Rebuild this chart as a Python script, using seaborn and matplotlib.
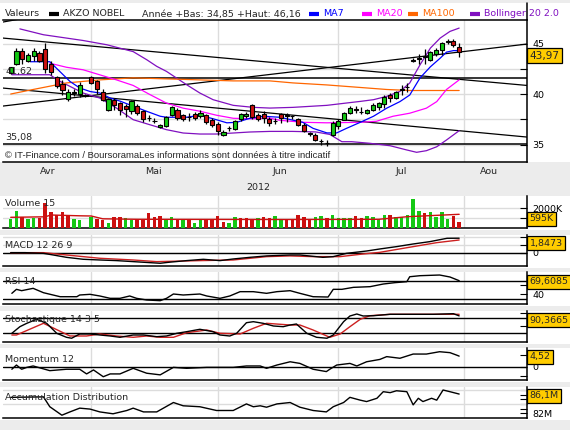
import matplotlib
matplotlib.use("Agg")
import matplotlib.pyplot as plt
import matplotlib.transforms as mtransforms
from matplotlib.lines import Line2D
from matplotlib.patches import Rectangle
import seaborn as sns

# ---------------- data (x = trading day index) ----------------
opens = [42.1, 43.0, 44.3, 43.25, 43.75, 44.05, 44.5, 43.0, 41.65, 41.0,
         39.5, 40.15, 40.0, 39.85, 41.7, 41.25, 40.25, 38.45, 39.45, 39.1,
         38.85, 38.3, 38.85, 38.35, 37.6, 37.3, 36.7, 36.8, 37.9, 38.45,
         37.95, 37.7, 38.0, 37.8, 37.9, 37.45, 37.05, 35.95, 36.6, 36.55,
         37.55, 37.8, 38.9, 37.9, 38.0, 37.55, 37.3, 38.0, 37.95, 37.8,
         37.5, 36.95, 36.15, 35.95, 35.3, 35.15, 35.95, 36.8, 37.45, 38.1,
         38.45, 38.2, 38.1, 38.45, 38.7, 39.0, 39.95, 39.6, 40.4, 40.65,
         43.3, 43.5, 43.7, 43.4, 43.95, 44.4, 45.15, 45.3, 44.7]
highs = [42.7, 44.6, 44.6, 44.05, 44.55, 44.3, 45.05, 43.25, 41.75, 41.4,
         40.45, 40.45, 41.2, 40.0, 41.8, 41.4, 40.45, 39.6, 39.6, 39.2,
         39.0, 39.45, 39.0, 38.45, 37.9, 37.6, 37.05, 37.8, 38.8, 38.6,
         38.0, 38.1, 38.25, 38.45, 38.0, 37.6, 37.2, 36.4, 36.8, 37.4,
         38.15, 38.2, 39.0, 38.1, 38.3, 37.7, 37.6, 38.1, 38.15, 37.95,
         37.6, 37.1, 36.25, 36.1, 35.5, 35.4, 37.3, 37.5, 38.2, 38.8,
         38.8, 38.7, 38.5, 39.1, 39.2, 39.9, 40.1, 40.3, 40.85, 41.1,
         43.55, 43.95, 44.5, 44.3, 44.55, 45.2, 45.4, 45.45, 45.1]
lows = [42.0, 42.9, 43.0, 43.15, 43.25, 43.15, 42.1, 41.9, 40.6, 39.95,
        39.35, 39.8, 39.75, 39.7, 40.95, 40.05, 39.3, 38.35, 38.4, 37.95,
        37.7, 38.0, 37.9, 37.2, 37.3, 37.1, 36.6, 36.75, 37.8, 37.45,
        37.35, 37.35, 37.45, 37.6, 37.0, 36.7, 35.95, 35.8, 36.3, 36.45,
        37.35, 37.6, 37.55, 37.35, 37.1, 36.85, 37.0, 37.1, 37.25, 37.5,
        36.8, 36.25, 35.85, 35.3, 35.0, 34.85, 35.8, 36.5, 37.4, 38.0,
        38.1, 38.0, 38.0, 38.35, 38.45, 38.6, 39.2, 39.5, 39.95, 40.2,
        43.15, 42.95, 42.95, 43.3, 43.75, 43.9, 45.0, 44.7, 43.7]
closes = [42.65, 44.3, 43.5, 43.9, 44.3, 43.25, 42.5, 42.15, 40.75, 40.35,
          40.25, 40.2, 40.9, 39.85, 41.1, 40.45, 39.45, 39.5, 38.9, 38.45,
          38.5, 39.3, 38.1, 37.55, 37.65, 37.3, 36.95, 37.7, 38.7, 37.65,
          37.55, 37.7, 37.6, 38.1, 37.25, 36.95, 36.3, 36.25, 36.65, 37.3,
          38.0, 38.0, 37.7, 37.55, 37.65, 37.15, 37.3, 37.6, 37.8, 37.8,
          36.95, 36.35, 36.0, 35.4, 35.35, 35.2, 37.15, 37.35, 38.1, 38.6,
          38.45, 38.25, 38.4, 38.95, 39.1, 39.75, 39.6, 40.2, 40.45, 40.7,
          43.3, 43.5, 43.75, 44.15, 44.4, 45.05, 45.3, 44.9, 44.2]

ma7_x = [3.4, 6.8, 8.6, 10.3, 12, 13.8, 15.5, 17.3, 19, 21.3, 23.6, 26, 27.1, 30.6,
         32.9, 35.2, 37.6, 39.3, 41.6, 43.9, 46.8, 50.8, 52.6, 55, 56.7, 58.4, 60.8,
         63.1, 65.4, 67.7, 69.4, 71.2, 73, 74.7, 75.8, 77, 78]
ma7_y = [43.2, 43.2, 42.2, 41.25, 40.6, 40.25, 40.1, 39.6, 39.3, 38.8, 38.3, 37.8, 37.7,
         37.7, 37.9, 37.55, 37.15, 37.2, 37.6, 37.8, 37.7, 37.2, 36.6, 36.15, 36.15, 36.6,
         37.2, 37.8, 38.6, 39.25, 39.9, 41.6, 42.7, 43.55, 44.15, 44.3, 44.3]
ma20_x = [6.8, 9.7, 12.6, 15.5, 18.4, 21.3, 24.2, 27.1, 30, 32.9, 35.8, 38.7, 41.6, 45.1,
          46.8, 50.9, 55, 60.8, 63.6, 66.5, 69.4, 72.3, 74.1, 75.8, 78]
ma20_y = [43.05, 42.65, 42.4, 41.9, 41.4, 40.85, 39.95, 39.1, 38.6, 38.3, 37.9, 37.6,
          37.55, 37.6, 37.4, 37.2, 37.15, 37.2, 37.3, 37.8, 38.1, 38.6, 39.25, 40.45, 41.4]
ma100_x = [0, 3.9, 9.7, 15.5, 21.3, 27.1, 32.9, 38.7, 45.1, 49.1, 55, 60.8, 65.4, 69.4, 78]
ma100_y = [40.0, 40.45, 41.1, 41.4, 41.6, 41.5, 41.4, 41.3, 41.3, 41.1, 40.9, 40.65,
           40.45, 40.35, 40.35]
boll_up_x = [1.6, 5.7, 12.6, 16.7, 21.3, 23.65, 25.4, 27.1, 30.6, 32.9, 35.2, 38.7, 42.2,
             45.1, 49.1, 55, 58.4, 60.8, 63.1, 65.4, 67.7, 69.4, 71.2, 73, 74.7, 76.4, 78]
boll_up_y = [46.45, 45.87, 45.3, 44.88, 44.2, 43.4, 42.74, 42.24, 40.92, 40.1, 39.44,
             38.88, 38.68, 38.61, 38.68, 38.88, 39.11, 39.27, 39.44, 39.77, 40.26, 41.09,
             42.9, 44.55, 45.54, 46.2, 46.53]
boll_lo_x = [0.2, 6.8, 8.6, 12.6, 15.5, 18.4, 21.3, 24.2, 27.1, 30, 32.9, 35.8, 38.7, 41.6,
             45.1, 49, 53, 55.5, 57.6, 59.3, 62.5, 66, 68.9, 70.6, 72.3, 74.1, 75.8, 78]
boll_lo_y = [41.91, 41.91, 41.25, 40.1, 39.6, 38.61, 37.46, 36.96, 36.47, 36.14, 36.04,
             36.04, 36.14, 36.24, 36.3, 36.3, 36.25, 36.0, 35.28, 35.28, 35.12, 34.88,
             34.46, 34.23, 34.39, 34.78, 35.45, 36.37]

# support / trend lines (x index, price)
trend_x0 = [-1.34, -1.34, -1.34, -1.34]
trend_y0 = [45.54, 38.81, 40.59, 47.13]
trend_x1 = [89.8, 89.8, 89.8, 1.62]
trend_y1 = [40.85, 44.95, 35.74, 47.43]
levels = [41.62, 35.08]
level_labels = ["41,62", "35,08"]

volumes = [930, 1730, 1100, 930, 1070, 1070, 2500, 1660, 1330, 1660,
           1260, 930, 830, 60, 1160, 930, 830, 560, 1100, 1100,
           1070, 830, 900, 900, 1500, 1160, 1230, 900, 1100, 900,
           830, 830, 560, 900, 900, 900, 1230, 660, 560, 1100,
           1070, 1000, 830, 1070, 1100, 1000, 1230, 900, 900, 900,
           1330, 1100, 830, 1100, 1230, 1000, 1330, 1000, 1000, 1000,
           1230, 1000, 1230, 1160, 930, 1330, 1330, 1100, 1100, 1330,
           2900, 1760, 1560, 1660, 1100, 1660, 930, 1230, 595]
vol_dir = ("GGRGGRRRRR" "RGGGGRRGRR" "GGRRRRRGGR" "GRGGRRRRGG" "RRRGRRGGRR"
           "RRRGGRGGGG" "RRGGGGRGGG" "GGRGGGGRR")
vol_ma_x = [0, 6, 7, 12, 14, 16, 22, 48, 64, 69, 78]
vol_ma_y = [1100, 1150, 1330, 1250, 1230, 950, 900, 880, 900, 1160, 1400]

macd_x = [0, 2.5, 5.7, 7.4, 9.7, 12.6, 15.5, 18.4, 21.3, 24.2, 26, 27.4, 30.6, 33.5, 36.4,
          38.7, 41.6, 44.5, 48.6, 50.3, 54.3, 56.1, 58.4, 61.9, 64.2, 67.1, 70, 72.9,
          75.9, 78]
macd_y = [0.0, 0.0, -0.09, -0.3, -0.6, -0.85, -0.94, -1.02, -1.15, -1.28, -1.36, -1.24,
          -1.02, -0.85, -1.02, -0.81, -0.6, -0.42, -0.3, -0.3, -0.6, -0.51, -0.09, 0.21,
          0.47, 0.77, 1.11, 1.41, 1.84, 1.85]
signal_x = [0, 5.7, 9.7, 12.6, 15.5, 21.3, 25.4, 32.9, 38.7, 44.5, 48.6, 52.6, 57.3, 61.3,
            64.2, 70, 74.1, 78]
signal_y = [0.0, 0.0, -0.3, -0.51, -0.72, -0.94, -1.15, -1.02, -0.94, -0.51, -0.42, -0.51,
            -0.51, -0.17, 0.04, 0.77, 1.28, 1.62]

rsi_x = [0.2, 1, 1.9, 3.9, 5.7, 8.6, 11.5, 12, 13.8, 15.5, 17.3, 19, 20.7, 21.9, 23.65, 26,
         27.1, 28.3, 30, 32.9, 34.1, 36.4, 38.1, 39.9, 42.2, 44.5, 46.3, 48.6, 50.3, 52.6,
         55.2, 56.1, 57.6, 59.6, 62.5, 64.8, 66.8, 68.9, 69.4, 71.2, 74.6, 76.4, 78]
rsi_y = [41.5, 50.4, 47.4, 52.6, 42.9, 34, 34, 37.8, 39.3, 35.6, 30.4, 30.4, 35.6, 30.4,
         26.7, 25.2, 30.4, 40, 37.8, 40, 35.6, 30.4, 35.6, 45.2, 45.2, 41.5, 45.2, 47.4,
         41.5, 34, 33.3, 50.4, 50.4, 54.8, 56.3, 62.2, 65.2, 67.4, 78.4, 80.7, 82.2, 77.8,
         69.6]

stoch_k_x = [0.2, 1.6, 2.8, 4.5, 6.25, 8, 9.7, 10.6, 12, 13.8, 15.5, 17.3, 19, 21.3, 23.1,
             25.4, 27.1, 28.9, 30.6, 32.9, 35.2, 36.4, 38.1, 39.3, 41, 42.2, 43.9, 45.7,
             47.4, 48.6, 49.7, 51.5, 53.2, 55, 56.1, 57.9, 59, 60.2, 61.3, 63.1, 66, 67.7,
             73.5, 77, 78]
stoch_k_y = [20, 46.7, 60.4, 76.6, 60.4, 20, 3.8, 0, 17.2, 17.2, 13.1, 9.1, 3.8, 13.1, 13.1,
             6.3, 9.1, 20, 26.5, 36.2, 26.5, 13.1, 9.1, 20, 62.8, 66.9, 60.4, 49.5, 46.7,
             53.5, 57.6, 20, 3.8, 0, 13.1, 66.9, 89.9, 98, 89.9, 91.1, 96.8, 96.8, 96.8,
             99.2, 90.4]
stoch_d_x = [0.2, 1, 5.7, 10.3, 13.2, 15.5, 18.4, 21.3, 23.65, 26, 28.3, 30.6, 34.1, 36.4,
             39.9, 42.2, 44.5, 48.6, 50.3, 52.6, 55.5, 57.3, 59, 60.8, 62.5, 66, 78]
stoch_d_y = [13.1, 13.1, 60.4, 9.1, 9.1, 17.2, 9.1, 3.8, 9.1, 3.8, 3.8, 22.4, 33.3, 20,
             17.2, 40.2, 60.4, 53.5, 53.5, 33.3, 3.8, 17.2, 46.7, 76.6, 91.1, 96.8, 96.8]

mom_x = [0.2, 1, 1.9, 2.8, 3.9, 6.8, 9.7, 12, 13.2, 14.4, 16.1, 17.3, 19, 21.3, 23.65, 26,
         28.3, 30.6, 34.1, 36.4, 38.7, 41, 43.4, 44.5, 46.3, 48.6, 50.3, 52.6, 54.9, 55.5,
         56.7, 59, 60.2, 61.9, 64.2, 65.4, 67.7, 70, 72.3, 74.6, 76.4, 77.5, 78]
mom_y = [-1.1, 0.7, -1.1, -0.3, 0.3, -1.7, -1.1, -1.1, -3.1, -1.4, -4.3, -3.1, -3.1, -0.7,
         -2.8, -3.5, -0.3, -0.7, -0.3, -0.3, -0.3, 0.3, 0.3, -0.7, 0.7, 2.1, 1.4, -1.1,
         -2.1, -1.1, 0.7, 1.4, 0.3, 2.1, 3.1, 4.3, 3.6, 5.4, 5.4, 6.4, 6.0, 5.0, 4.52]

ad_x = [0, 5.7, 6.8, 8.9, 10.3, 12, 13.8, 15.5, 17.8, 20.2, 21.3, 23.1, 25.4, 28.3, 30,
        32.9, 35.8, 38.7, 41, 42.2, 43.4, 44.5, 46.3, 48.6, 50.3, 52.6, 54.9, 56.1, 57.9,
        59, 60.8, 61.9, 63.7, 64.8, 66, 67.1, 68.9, 70, 70.9, 71.7, 73.2, 74.1, 75.2,
        76.4, 78]
ad_y = [85.4, 85.5, 83.4, 81.6, 82.3, 83.1, 82.9, 82.3, 81.9, 82.6, 83.1, 82.3, 82.3,
        84.3, 83.6, 83.4, 82.6, 82.6, 84.0, 83.4, 83.6, 83.3, 84.0, 84.3, 83.3, 82.6,
        82.3, 83.4, 84.3, 85.4, 84.8, 84.5, 85.2, 86.6, 86.4, 86.8, 86.6, 83.8, 85.2,
        84.5, 85.2, 84.8, 86.96, 86.6, 86.1]

month_edges = [13.97, 36.05, 56.9, 78.8]
month_names = ["Avr", "Mai", "Jun", "Jul", "Aou"]
month_mid = [6.5, 24.75, 46.8, 67.9, 83.2]

# ---------------- styling ----------------
sns.set_theme(style="white")
plt.rcParams["font.family"] = ["DejaVu Sans"]
plt.rcParams["axes.linewidth"] = 1.1

GREEN = "#14c814"
RED = "#cc1010"
GRID = "#dcdcdc"
W, H = 570, 430
XMIN, XMAX = -1.34, 89.8
FS = 6.8

fig = plt.figure(figsize=(W / 100, H / 100), dpi=100, facecolor="#ececec")


def fy(y):
    return 1 - y / H


def white_band(top, bottom):
    fig.patches.append(Rectangle((0, fy(bottom)), 1, (bottom - top) / H,
                                 transform=fig.transFigure, facecolor="white",
                                 edgecolor="none", zorder=-5))


def fig_line(xs, ys, **kw):
    fig.lines.append(Line2D([x / W for x in xs], [fy(y) for y in ys],
                            transform=fig.transFigure, **kw))


def panel(top, bottom, ylim, title=None, title_y=None):
    ax = fig.add_axes([3 / W, fy(bottom), 524 / W, (bottom - top) / H])
    ax.set_facecolor("white")
    ax.set_xlim(XMIN, XMAX)
    ax.set_ylim(*ylim)
    ax.yaxis.tick_right()
    for s in ["left", "top"]:
        ax.spines[s].set_visible(False)
    for s in ["right", "bottom"]:
        ax.spines[s].set_color("black")
    ax.set_xticks(month_edges)
    ax.set_xticklabels([])
    ax.tick_params(axis="x", length=0)
    ax.tick_params(axis="y", direction="in", length=5, width=0.8, labelsize=FS,
                   pad=4, colors="black")
    ax.grid(True, axis="x", color=GRID, lw=1)
    ax.set_axisbelow(True)
    if title:
        fig.text(5 / W, fy(title_y), title, fontsize=FS, va="center", ha="left")
    return ax


def value_box(y, txt, fs=FS, pad=0.28):
    fig.text(529.5 / W, fy(y), txt, fontsize=fs, va="center", ha="left", zorder=20,
             bbox=dict(boxstyle="square,pad=%s" % pad, fc="#ffcc00", ec="black", lw=0.9))


def line(ax, xs, ys, color, lw=0.9, z=3):
    sns.lineplot(x=xs, y=ys, ax=ax, color=color, linewidth=lw, estimator=None,
                 sort=False, legend=False, zorder=z)


# ---------------- main price panel ----------------
white_band(3, 162)
ax = panel(20, 162, (33.27, 47.33))
ax.spines["top"].set_visible(True)
ax.spines["top"].set_color("black")
ax.set_yticks([35, 37.5, 40, 42.5, 45])
ax.set_yticklabels(["35", "", "40", "", "45"])
ax.grid(True, axis="y", color=GRID, lw=1)
ax.tick_params(axis="x", length=3, direction="out", width=0.8, colors="black")
fig_line([527, 527], [3, 20], color="black", lw=1.1)

for x0, y0, x1, y1 in zip(trend_x0, trend_y0, trend_x1, trend_y1):
    ax.plot([x0, x1], [y0, y1], color="black", lw=0.9, zorder=2)
for lv in levels:
    ax.axhline(lv, color="black", lw=1.1, zorder=2)
lvl_tr = mtransforms.blended_transform_factory(ax.transAxes, ax.transData)
for lv, lab in zip(levels, level_labels):
    ax.text(0.004, lv + 0.62, lab, transform=lvl_tr, fontsize=FS, va="center",
            ha="left", zorder=6)

line(ax, boll_up_x, boll_up_y, "#8010c0")
line(ax, boll_lo_x, boll_lo_y, "#8010c0")
line(ax, ma100_x, ma100_y, "#ff6600")
line(ax, ma20_x, ma20_y, "#ff00ff")
line(ax, ma7_x, ma7_y, "#0000ff")

idx = list(range(len(closes)))
ax.vlines(idx, lows, highs, color="black", lw=0.9, zorder=4)
body_bottom = [min(o, c) for o, c in zip(opens, closes)]
body_h = [max(abs(c - o), 0.03) for o, c in zip(opens, closes)]
body_col = [GREEN if c > o else RED for o, c in zip(opens, closes)]
ax.bar(idx, body_h, bottom=body_bottom, width=0.72, color=body_col,
       edgecolor="black", linewidth=0.8, zorder=5)

fig.text(5 / W, fy(155), "\u00a9 IT-Finance.com / BoursoramaLes informations sont donn\u00e9es \u00e0 titre indicatif",
         fontsize=6.8, family=["Liberation Sans", "DejaVu Sans"], va="center", ha="left")
value_box(55.5, "43,97", fs=7.6, pad=0.22)

# month labels under the price panel
bt = mtransforms.blended_transform_factory(ax.transData, fig.transFigure)
for m, pos in zip(month_names, month_mid):
    ax.text(pos, fy(172), m, transform=bt, fontsize=FS, ha="center", va="center")
ax.text(43, fy(187), "2012", transform=bt, fontsize=FS, ha="center", va="center")

# header / legend row
fig.text(5 / W, fy(14), "Valeurs", fontsize=FS, va="center")
fig.text(63 / W, fy(14), "AKZO NOBEL", fontsize=FS, va="center")
fig.text(142 / W, fy(14), "Ann\u00e9e +Bas: 34,85 +Haut: 46,16", fontsize=FS, va="center")
legend_items = [("black", None, 49), ("#0000ff", "MA7", 309), ("#ff00ff", "MA20", 362),
                ("#ff6600", "MA100", 408), ("#8010c0", "Bollinger 20 2.0", 470)]
for col, lab, x0 in legend_items:
    fig_line([x0, x0 + 10], [14, 14], color=col, lw=3, solid_capstyle="butt")
    if lab:
        fig.text((x0 + 14) / W, fy(14), lab, fontsize=FS, va="center", color=col)

# ---------------- volume ----------------
white_band(196, 229.5)
axv = panel(196, 228.3, (0, 3230), "Volume 15", 203)
axv.bar(idx, volumes, width=0.62, color=[GREEN if d == "G" else RED for d in vol_dir],
        edgecolor="none", zorder=3)
line(axv, vol_ma_x, vol_ma_y, "#cc1010", lw=1.0, z=4)
axv.set_yticks([1000, 2000])
axv.set_yticklabels(["", "2000K"])
axv.grid(True, axis="y", color=GRID, lw=1)
value_box(218.7, "595K")

# ---------------- MACD ----------------
white_band(235, 267.5)
axm = panel(235, 266, (-1.71, 2.26), "MACD 12 26 9", 245)
axm.set_yticks([0, 1, 2])
axm.set_yticklabels(["0", "", ""])
axm.grid(True, axis="y", color=GRID, lw=1)
axm.axhline(0, color="black", lw=1.0, zorder=2)
line(axm, signal_x, signal_y, "#cc2020", lw=1.0)
line(axm, macd_x, macd_y, "black", lw=1.0, z=4)
value_box(243.3, "1,8473")

# ---------------- RSI ----------------
white_band(272, 305.5)
axr = panel(272, 304, (17.8, 88.9), "RSI 14", 281)
axr.set_yticks([40, 60])
axr.set_yticklabels(["40", ""])
for lv in [70, 30]:
    axr.axhline(lv, color="black", lw=1.0, zorder=2)
line(axr, rsi_x, rsi_y, "black", lw=1.0)
value_box(281.7, "69,6085")

# ---------------- Stochastic ----------------
white_band(311, 343.5)
axs = panel(311, 342, (-15.2, 110.1), "Stochastique 14 3 5", 320)
axs.set_yticks([50, 100])
axs.set_yticklabels(["", ""])
for lv in [80, 20]:
    axs.axhline(lv, color="black", lw=1.0, zorder=2)
line(axs, stoch_d_x, stoch_d_y, "#cc2020", lw=1.0)
line(axs, stoch_k_x, stoch_k_y, "black", lw=1.0, z=4)
value_box(320, "90,3665")

# ---------------- Momentum ----------------
white_band(348, 381.5)
axo = panel(348, 380, (-5.7, 7.99), "Momentum 12", 359)
axo.set_yticks([-4, 0, 5])
axo.set_yticklabels(["", "0", ""])
axo.axhline(0, color="black", lw=1.0, zorder=2)
line(axo, mom_x, mom_y, "black", lw=1.0)
value_box(357, "4,52")

# ---------------- Accumulation / Distribution ----------------
white_band(387, 419.5)
axa = panel(387, 418.3, (80.94, 87.6), "Accumulation Distribution", 397)
axa.set_yticks([82, 83, 84, 85, 86, 87])
axa.set_yticklabels(["82M", "", "", "", "", ""])
for lv in [84, 87]:
    axa.axhline(lv, color=GRID, lw=1.0, zorder=1)
line(axa, ad_x, ad_y, "black", lw=1.0)
value_box(395.7, "86,1M")

fig.savefig("out.png", dpi=100, facecolor=fig.get_facecolor())
